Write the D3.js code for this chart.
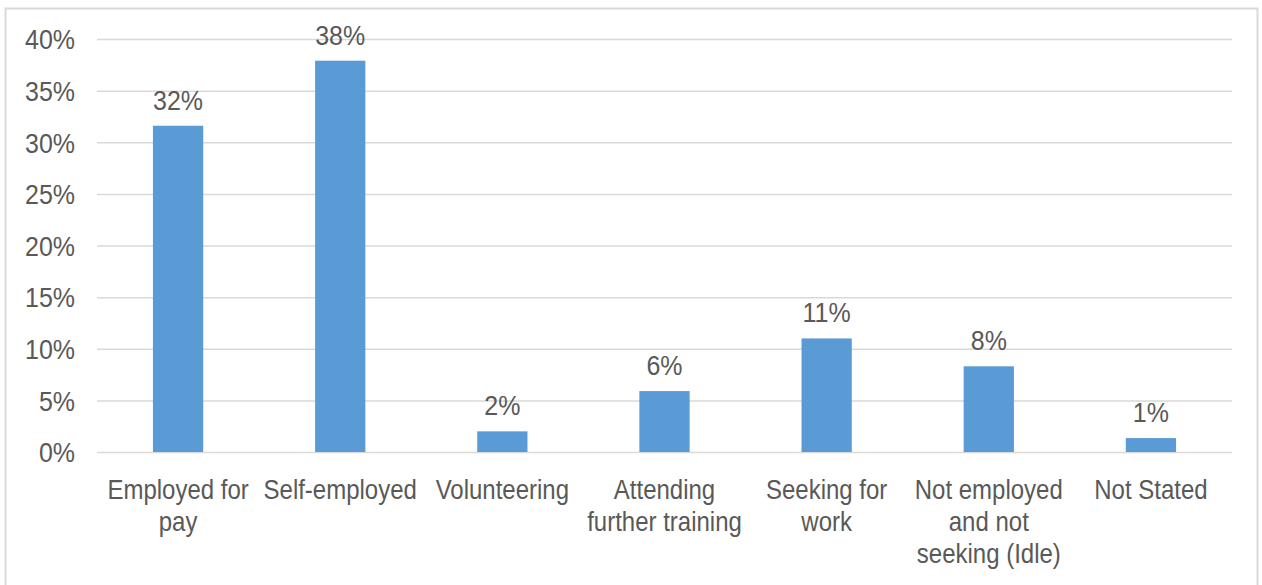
<!DOCTYPE html>
<html><head><meta charset="utf-8">
<script src="https://cdn.jsdelivr.net/npm/d3@7"></script>
<style>
body{margin:0;background:#fff;}
svg text{font-family:"Liberation Sans",Arial,sans-serif;fill:#595959;}
</style></head>
<body><svg id="c" width="1262" height="585"></svg>
<script>
const categories = [["Employed for","pay"],["Self-employed"],["Volunteering"],["Attending","further training"],["Seeking for","work"],["Not employed","and not","seeking (Idle)"],["Not Stated"]];
const values = [31.6, 37.9, 2.0, 5.9, 11.0, 8.3, 1.35];
const labels = ["32%","38%","2%","6%","11%","8%","1%"];
const yTicks = [0,5,10,15,20,25,30,35,40];

const svg = d3.select("#c");
svg.append("rect").attr("x",5.5).attr("y",8.5).attr("width",1252).attr("height",600)
  .attr("fill","#fff").attr("stroke","#d9d9d9").attr("stroke-width",2);

const x = d3.scaleBand().domain(d3.range(categories.length)).range([97,1232]).paddingInner(0.69).paddingOuter(0.345);
const y = d3.scaleLinear().domain([0,40]).range([452,39]);
const SY = 1.12;

const yAxis = d3.axisLeft(y).tickValues(yTicks).tickFormat(d=>d+"%").tickSize(-(1232-97)).tickPadding(22);
const gy = svg.append("g").attr("transform","translate(97,0)").call(yAxis);
gy.select(".domain").remove();
gy.selectAll(".tick line").attr("stroke","#d9d9d9").attr("stroke-width",1.5);
gy.selectAll(".tick text").attr("font-size",25).attr("dy","0.35em").attr("transform",`scale(1,${SY})`)
  .style("font-family",'"Liberation Sans",Arial,sans-serif');

svg.selectAll("rect.bar").data(values).enter().append("rect").attr("class","bar")
  .attr("x",(d,i)=>x(i)).attr("width",x.bandwidth())
  .attr("y",d=>y(d)).attr("height",d=>y(0)-y(d)).attr("fill","#5b9bd5");

svg.selectAll("text.lbl").data(values).enter().append("text").attr("class","lbl")
  .attr("transform",(d,i)=>`translate(${x(i)+x.bandwidth()/2},${y(d)-16}) scale(1,${SY})`)
  .attr("text-anchor","middle").attr("font-size",25).text((d,i)=>labels[i]);

categories.forEach((lines,i)=>{
  const cx = x(i)+x.bandwidth()/2;
  lines.forEach((l,j)=>{
    svg.append("text").attr("text-anchor","middle").attr("font-size",24)
      .attr("transform",`translate(${cx},${499+j*32}) scale(1,${SY})`).text(l);
  });
});
</script></body></html>
